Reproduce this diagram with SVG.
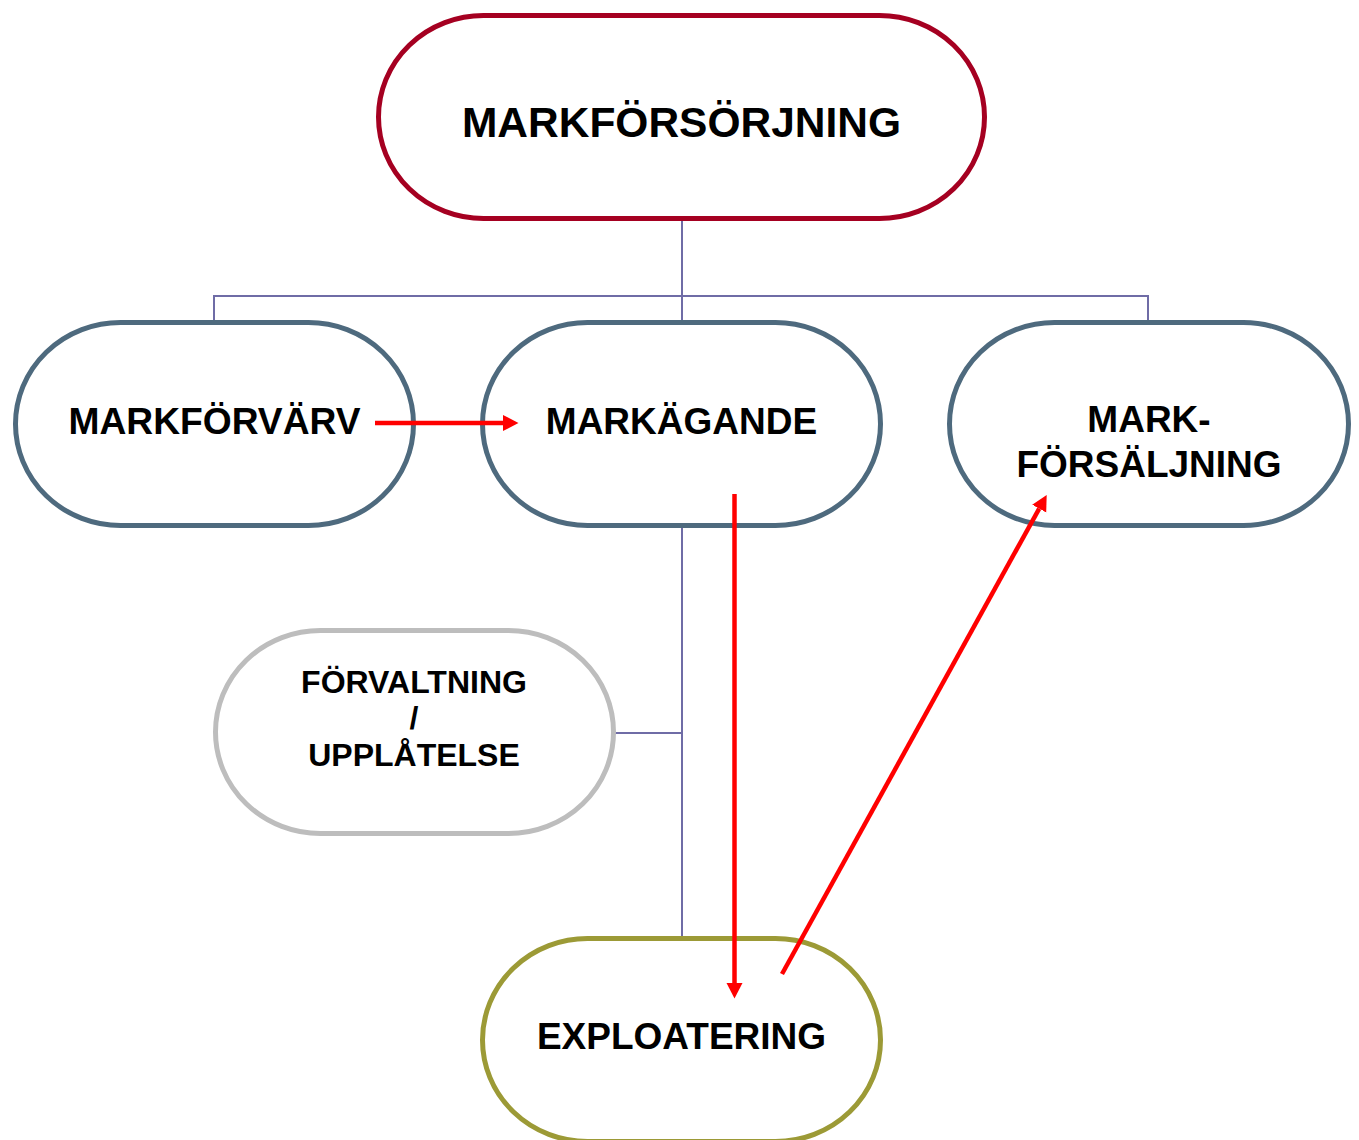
<svg xmlns="http://www.w3.org/2000/svg" width="1359" height="1140" viewBox="0 0 1359 1140">
  <style>
    .box { fill: #ffffff; stroke-width: 5; }
    .top { stroke: #A50021; }
    .mid { stroke: #4E6A7E; }
    .gray { stroke: #BDBDBD; }
    .olive { stroke: #9C9A36; }
    .lbl { font-family: "Liberation Sans", Arial, sans-serif; font-weight: bold; fill: #000000; text-anchor: middle; }
    .conn { stroke: #6F6CA6; stroke-width: 2; fill: none; }
    .arrow { stroke: #FF0000; stroke-width: 4.5; fill: none; marker-end: url(#head); }
  </style>
  <defs>
    <marker id="head" markerUnits="userSpaceOnUse" markerWidth="17" markerHeight="17" viewBox="0 0 17 17" refX="0" refY="8.5" orient="auto">
      <path d="M0,0.5 L15.5,8.5 L0,16.5 z" fill="#FF0000"/>
    </marker>
  </defs>
  <rect width="1359" height="1140" fill="#ffffff"/>

  <g id="connectors">
    <path class="conn" d="M682,219 V296 M214,322 V296 H1148 V322 M682,296 V322"/>
    <path class="conn" d="M682,527 V937 M615,733 H682"/>
  </g>

  <g id="n-markforsorjning">
    <rect class="box top" x="378.5" y="15.5" width="606" height="203" rx="105" ry="101.5"/>
    <text class="lbl" x="681.5" y="137" font-size="42.5">MARKFÖRSÖRJNING</text>
  </g>
  <g id="n-markforvarv">
    <rect class="box mid" x="15.5" y="322.5" width="398" height="203" rx="105" ry="101.5"/>
    <text class="lbl" x="214.5" y="434" font-size="37.2">MARKFÖRVÄRV</text>
  </g>
  <g id="n-markagande">
    <rect class="box mid" x="482.5" y="322.5" width="398" height="203" rx="105" ry="101.5"/>
    <text class="lbl" x="681.5" y="434" font-size="37">MARKÄGANDE</text>
  </g>
  <g id="n-markforsaljning">
    <rect class="box mid" x="949.5" y="322.5" width="399" height="203" rx="105" ry="101.5"/>
    <text class="lbl" x="1149" y="432" font-size="37">MARK-</text>
    <text class="lbl" x="1149" y="477" font-size="37">FÖRSÄLJNING</text>
  </g>
  <g id="n-forvaltning">
    <rect class="box gray" x="215.5" y="630.5" width="398" height="203" rx="105" ry="101.5"/>
    <text class="lbl" x="414" y="693" font-size="32">FÖRVALTNING</text>
    <text class="lbl" x="414" y="729" font-size="32">/</text>
    <text class="lbl" x="414" y="766" font-size="32">UPPLÅTELSE</text>
  </g>
  <g id="n-exploatering">
    <rect class="box olive" x="482.5" y="938.5" width="398" height="203" rx="105" ry="101.5"/>
    <text class="lbl" x="681.5" y="1049" font-size="37">EXPLOATERING</text>
  </g>

  <g id="arrows">
    <line class="arrow" x1="375" y1="423" x2="503" y2="423"/>
    <line class="arrow" x1="734.5" y1="494" x2="734.5" y2="983"/>
    <line class="arrow" x1="782" y1="974" x2="1039.2" y2="508.6"/>
  </g>
</svg>
